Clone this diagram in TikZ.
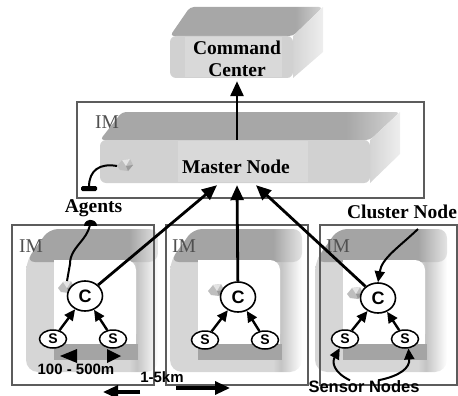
\documentclass[tikz,border=0pt]{standalone}
\usepackage{fontspec}
\setmainfont{Liberation Serif}
\setsansfont{Liberation Sans}
\usetikzlibrary{shapes.geometric,arrows.meta}

% grey tones of the 3D blocks and rings
\definecolor{topg}{HTML}{A7A7A7}
\definecolor{toplt}{HTML}{D4D4D4}
\definecolor{faceg}{HTML}{D1D1D1}
\definecolor{panelg}{HTML}{D9D9D9}
\definecolor{sideg}{HTML}{EEEEEE}
\definecolor{sidedk}{HTML}{D4D4D4}
\definecolor{ringg}{HTML}{D6D6D6}
\definecolor{ringdk}{HTML}{C4C4C4}
\definecolor{bandg}{HTML}{A4A4A4}
\definecolor{bandlt}{HTML}{E4E4E4}
\definecolor{frameg}{HTML}{5C5C5C}
\definecolor{imtext}{HTML}{505050}
\definecolor{gemg}{HTML}{BEBEBE}
\definecolor{gemlt}{HTML}{E4E4E4}
\definecolor{gemdk}{HTML}{9A9A9A}

\pgfdeclarehorizontalshading{ringbody}{100bp}{color(0bp)=(ringg); color(25bp)=(ringg); color(64bp)=(ringg); color(67bp)=(ringdk); color(75bp)=(white); color(100bp)=(white)}
\pgfdeclarehorizontalshading{bandbody}{100bp}{color(0bp)=(bandg); color(25bp)=(bandg); color(64bp)=(bandg); color(75bp)=(bandlt); color(100bp)=(bandlt)}
\pgfdeclarehorizontalshading{blocktop}{100bp}{color(0bp)=(topg); color(25bp)=(topg); color(66bp)=(topg); color(75bp)=(toplt); color(100bp)=(toplt)}

\tikzset{
  % rounded square tube that frames each cluster
  tubering/.pic={
    \shade[shading=ringbody, rounded corners=12]
      (-28,260) -- (-28,372) -- (104,372) -- (104,232) -- (-6,232) -- cycle;
    \shade[shading=bandbody, rounded corners=9]
      (-28,262) -- (-5,229) -- (104,229) -- (104,262) -- cycle;
    \fill[white, rounded corners=10] (0,260) rectangle (82,344);
    \fill[white] (0,260) rectangle (40,344);
    \fill[white] (0,300) rectangle (82,344);
    \fill[bandg] (0,344) rectangle (84,360);
  },
  % small agent gem
  gemicon/.pic={
    \fill[gemg] (-8,1) -- (-3,-5) -- (5,-6) -- (8,0) -- (3,6) -- (-5,5) -- cycle;
    \fill[gemlt] (-3,-5) -- (5,-6) -- (1,1) -- cycle;
    \fill[gemdk] (1,1) -- (8,0) -- (3,6) -- cycle;
  },
  lbl/.style={font=\fontsize{19.5}{22}\selectfont\bfseries, align=center, inner sep=0pt},
  imlbl/.style={font=\fontsize{19.5}{20}\selectfont, text=imtext, inner sep=0pt},
  dimlbl/.style={font=\sffamily\bfseries\fontsize{15}{16}\selectfont, inner sep=0pt},
  snlbl/.style={font=\sffamily\bfseries\fontsize{16.5}{18}\selectfont, inner sep=0pt},
  imframe/.style={draw=frameg, line width=1.1pt},
  cnode/.style={ellipse, draw, line width=1.6pt, fill=white, minimum width=35pt,
    minimum height=30pt, inner sep=0pt, font=\sffamily\bfseries\fontsize{18}{18}\selectfont},
  snode/.style={ellipse, draw, line width=1.5pt, fill=white, minimum width=27pt,
    minimum height=18pt, inner sep=0pt, font=\sffamily\bfseries\fontsize{14}{14}\selectfont},
  conn/.style={line width=2.8pt, -{Triangle[length=15pt,width=13pt]}},
  sc/.style={line width=2.4pt, -{Triangle[length=11pt,width=10pt]}},
  thinarrow/.style={line width=2pt, -{Triangle[length=11pt,width=10pt]}},
  dimarrow/.style={line width=3.2pt, -{Triangle[length=15pt,width=13pt]}},
  agentline/.style={line width=2pt},
}

\begin{document}
\begin{tikzpicture}[x=1pt, y=-1pt]
\useasboundingbox (0,0) rectangle (458,396);

% cluster rings
\pic at (54,0) {tubering};
\pic at (198,0) {tubering};
\pic at (343,0) {tubering};

% IM frames
\draw[imframe] (77,102) rectangle (424,198);
\draw[imframe] (12,225) rectangle (154,385);
\draw[imframe] (166,225) rectangle (308,385);
\draw[imframe] (320,225) rectangle (457,385);

% command center block
\shade[shading=blocktop, rounded corners=4] (170,36) -- (190,7) -- (323,7) -- (293,36) -- cycle;
\shade[left color=sidedk, right color=sideg] (293,36) -- (323,7) -- (323,52) -- (293,78) -- cycle;
\fill[faceg, rounded corners=6] (170,36) rectangle (293,78);
\fill[panelg] (185,37) rectangle (282,77);
\node[inner sep=0pt, minimum width=123pt, minimum height=42pt] (command) at (231.5,57) {};
\node[lbl] (cmdtext) at (237,59) {Command\\Center};

% master node block
\shade[shading=blocktop, rounded corners=4] (100,140) -- (122,112) -- (400,112) -- (370,140) -- cycle;
\shade[left color=sidedk, right color=sideg] (370,140) -- (400,112) -- (400,154) -- (370,183) -- cycle;
\fill[faceg, rounded corners=6] (100,140) rectangle (370,183);
\fill[panelg] (178,141) rectangle (308,182);
\node[inner sep=0pt, minimum width=270pt, minimum height=43pt] (master) at (235,161.5) {};
\node[lbl, anchor=base] (mtext) at (236,173) {Master Node};

% IM labels
\node[imlbl] (im0) at (107,122) {IM};
\node[imlbl] (im1) at (31,246) {IM};
\node[imlbl] (im2) at (184,246) {IM};
\node[imlbl] (im3) at (338,246) {IM};

% agent gems
\coordinate (gm) at (125,165);
\coordinate (g1) at (66,287);
\coordinate (g2) at (216,290);
\coordinate (g3) at (355,293);
\foreach \g in {gm,g1,g2,g3} \pic at (\g) {gemicon};

% agents and their plugs
\node[lbl, anchor=base] (agl) at (93.5,212) {Agents};
\coordinate (plugA) at (89,187);
\coordinate (plugB) at (90.5,220);
\fill[rounded corners=1.5] (81,186) rectangle (97,191);
\fill (84,225.5) .. controls (84,217.5) and (97,217.5) .. (97,225.5) -- cycle;
\draw[agentline] ([xshift=-8pt,yshift=-1pt]gm) .. controls (100,163) and (89,170) .. (plugA);
\draw[agentline] (plugB) .. controls (90,240) and (70,246) .. (70,264) -- ([xshift=1pt,yshift=6pt]g1);

% cluster heads and sensors
\node[cnode] (c1) at (85,296) {C};
\node[cnode] (c2) at (238,297) {C};
\node[cnode] (c3) at (378,298) {C};
\node[snode] (s11) at (53,339) {S};
\node[snode] (s12) at (113,339) {S};
\node[snode] (s21) at (205,340) {S};
\node[snode] (s22) at (265,340) {S};
\node[snode] (s31) at (345,339) {S};
\node[snode] (s32) at (405,339) {S};

\foreach \s/\c in {s11/c1, s12/c1, s21/c2, s22/c2, s31/c3, s32/c3}
  \draw[sc] (\s) -- (\c);

% cluster heads report to the master node
\draw[conn] (c1) -- ([xshift=-18pt,yshift=-2pt]master.south);
\draw[conn] (c2) -- ([xshift=2pt,yshift=-2pt]master.south);
\draw[conn] (c3) -- ([xshift=21pt,yshift=-2pt]master.south);
\draw[conn] ([xshift=2pt]master.north) -- ([xshift=5.5pt,yshift=-3pt]command.south);

% callouts
\node[lbl, anchor=base] (clab) at (402,218) {Cluster Node};
\draw[thinarrow] (418,229) .. controls (398,248) and (382,258) .. (c3.north);
\node[snlbl, anchor=base] (snl) at (364,392.5) {Sensor Nodes};
\draw[thinarrow] ([xshift=-14pt]snl.north) .. controls (333,372) and (332,362) .. (s31.240);
\draw[thinarrow] ([xshift=14pt]snl.north) .. controls (400,376) and (410,368) .. (s32.290);

% distances
\fill (60,356) -- (77,349) -- (77,363) -- cycle;
\fill (121,356) -- (107,349) -- (107,363) -- cycle;
\node[dimlbl] (d1) at (76,369) {100 - 500m};
\node[dimlbl] (d2) at (162,377) {1-5km};
\coordinate (kmL0) at (140,392);
\coordinate (kmL1) at (103,392);
\coordinate (kmR0) at (176,388);
\coordinate (kmR1) at (230,388);
\draw[dimarrow] (kmL0) -- (kmL1);
\draw[dimarrow] (kmR0) -- (kmR1);
\end{tikzpicture}
\end{document}
